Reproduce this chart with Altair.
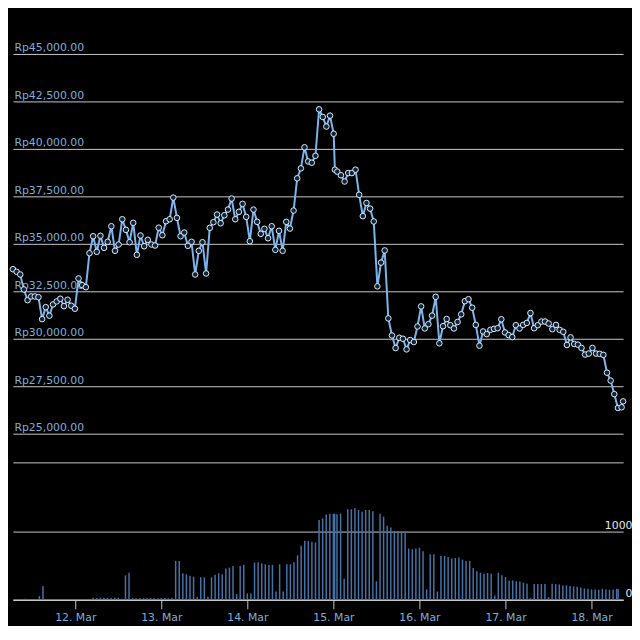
import altair as alt
import pandas as pd

# Price readings (Rp), one per reading time
price = [
    33664, 33527, 33385, 32596, 32033, 32228, 32228, 32190, 31034, 31665,
    31213, 31807, 31965, 32107, 31718, 32054, 31739, 31581, 33175, 32823,
    32717, 34506, 35400, 34579, 35421, 34789, 35105, 35926, 34632, 34963,
    36294, 35736, 35084, 36105, 34421, 35437, 34874, 35210, 34963, 34911,
    35850, 35452, 36189, 36294, 37436, 36367, 35400, 35594, 34895, 35105,
    33385, 34632, 35084, 33438, 35842, 36137, 36541, 36084, 36504, 36804,
    37383, 36294, 36683, 37104, 36420, 35137, 36804, 36157, 35526, 35789,
    35295, 35926, 34684, 35684, 34632, 36157, 35805, 36752, 38450, 38974,
    40083, 39339, 39271, 39635, 42083, 41682, 41177, 41750, 40797, 38906,
    38802, 38609, 38281, 38729, 38729, 38906, 37583, 36459, 37151, 36854,
    36177, 32761, 34011, 34651, 31073, 30172, 29511, 30050, 30000, 29443,
    29932, 29828, 30646, 31703, 30542, 30766, 31219, 32208, 29760, 30661,
    31042, 30714, 30542, 30885, 31286, 31979, 32083, 31635, 30729, 29635,
    30385, 30245, 30469, 30521, 30557, 31026, 30333, 30193, 30089, 30714,
    30542, 30729, 30833, 31354, 30557, 30714, 30906, 30906, 30802, 30505,
    30729, 30469, 30365, 29672, 30073, 29724, 29688, 29516, 29167, 29219,
    29516, 29219, 29203, 29151, 28214, 27797, 27084, 26354, 26391, 26703,
]

volume = [
    12, 10, 14, 10, 12, 10, 54, 200,
    10, 12, 10, 8, 10, 12, 10, 10, 8, 10, 12, 10, 10,
    30, 28, 32, 30, 30, 28, 30, 32, 15, 356, 395,
    25, 22, 28, 25, 24, 26, 25, 22, 25, 28, 24, 30,
    566, 566, 385, 371, 351, 337, 44, 327, 327, 44,
    327, 366, 385, 371, 454, 468, 493, 83, 493, 512,
    93, 93, 542, 547, 532, 517, 508, 508, 122, 517,
    122, 517, 517, 547, 649, 786, 859, 854, 844, 834,
    1161, 1185, 1240, 1254, 1254, 1250,
    1244, 1254, 307, 1317, 1317, 1332, 1307, 1283, 1307, 1307,
    1290, 268, 1254, 1210, 1078, 1054, 1000, 1000, 1000, 1000,
    746, 737, 746, 756, 707, 151, 663, 663, 122, 639,
    639, 624, 600, 610, 615, 585, 566, 566, 463, 415,
    395, 380, 390, 380, 63, 395, 356, 332, 283, 283,
    268, 268, 249, 234, 24, 229, 229, 229, 229, 39,
    234, 229, 224, 210, 210, 200, 195, 190, 180, 166,
    161, 151, 151, 146, 161, 151, 146, 151, 161, 156,
]

start = pd.Timestamp("2024-03-11 08:00")
extra_times = ["2024-03-15 00:20", "2024-03-18 07:25"]
times = [start + pd.Timedelta(hours=h) for h in range(0, 89)]
times += [pd.Timestamp(extra_times[0])]
times += [start + pd.Timedelta(hours=h) for h in range(89, 168)]
times += [pd.Timestamp(extra_times[1])]

day_ticks = [12, 13, 14, 15, 16, 17, 18]
price_ticks = [25000, 27500, 30000, 32500, 35000, 37500, 40000, 42500, 45000]
volume_ticks = [0, 1000, 2000]

df = pd.DataFrame({
    "time": [t.strftime("%Y-%m-%dT%H:%M:%S") for t in times],
    "price": price,
    "volume": volume,
})

FONT = "DejaVu Sans"
GRID = "#c8c8c8"
LABEL_BLUE = "#7eaed8"

x_price = alt.X("time:T", axis=None)
price_scale = alt.Scale(domain=[25000, 45000], nice=False, zero=False)

y_price = alt.Y(
    "price:Q",
    scale=price_scale,
    axis=alt.Axis(
        values=price_ticks,
        labelExpr="'Rp' + format(datum.value, ',.2f')",
        orient="left",
        labelAlign="left",
        labelBaseline="alphabetic",
        labelPadding=-1,
        labelOffset=-3,
        ticks=False,
        domain=False,
        grid=True,
        gridColor=GRID,
        gridWidth=1,
        gridOpacity=1,
        labelColor=LABEL_BLUE,
        labelFont=FONT,
        labelFontSize=11,
        title=None,
    ),
)

line = alt.Chart(df).mark_line(color="#7cb5ec", strokeWidth=2).encode(x=x_price, y=y_price)
pts = alt.Chart(df).mark_circle(
    size=32, fill="#10243a", stroke="#dcebf9", strokeWidth=1, opacity=1
).encode(x=x_price, y=alt.Y("price:Q", scale=price_scale))

price_chart = alt.layer(line, pts).properties(width=617, height=384)

x_vol = alt.X(
    "time:T",
    axis=alt.Axis(
        values=[alt.DateTime(year=2024, month=3, date=d) for d in day_ticks],
        format="%-d. %b",
        labelColor=LABEL_BLUE,
        labelFont=FONT,
        labelFontSize=11,
        labelPadding=3,
        tickColor=GRID,
        tickSize=9,
        tickWidth=1,
        domainColor=GRID,
        domainWidth=1.5,
        grid=False,
        labelFlush=False,
        title=None,
    ),
)

y_vol = alt.Y(
    "volume:Q",
    scale=alt.Scale(domain=[0, 2000], nice=False),
    axis=alt.Axis(
        values=volume_ticks,
        orient="right",
        labelExpr="datum.value == 2000 ? '' : format(datum.value, 'd')",
        labelAlign="right",
        labelBaseline="alphabetic",
        labelPadding=9,
        labelOffset=-3,
        ticks=False,
        domain=False,
        grid=True,
        gridColor=GRID,
        gridWidth=1,
        gridOpacity=1,
        labelColor="#e6e6e6",
        labelFont=FONT,
        labelFontSize=11,
        title=None,
    ),
)

vol_chart = alt.Chart(df).mark_bar(color="#4572a7", width=1.5).encode(
    x=x_vol, y=y_vol
).properties(width=617, height=139)

chart = alt.vconcat(price_chart, vol_chart, spacing=29).properties(
    background="#000000",
    padding={"left": 0, "top": 31, "right": 0, "bottom": 0},
).configure_view(stroke=None)

chart.save("out.html", embed_options={"renderer": "svg", "actions": False})
